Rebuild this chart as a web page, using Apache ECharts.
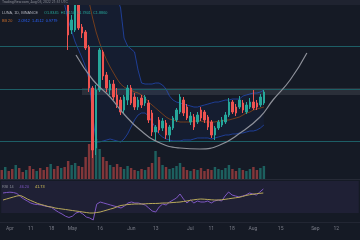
<!DOCTYPE html>
<html><head><meta charset="utf-8">
<script src="https://cdn.jsdelivr.net/npm/echarts@6/dist/echarts.min.js"></script>
<style>html,body{margin:0;padding:0;background:#151a25;}#c{width:360px;height:240px;}</style>
</head><body><div id="c"></div>
<script>
// ---- data ----
const N_CATS = 103;            // daily slots across the visible range (incl. empty future space)
const FIRST_CANDLE = 19;       // earlier candles are above the visible price range
const tickIdx  = [2, 8, 14, 20, 28, 37, 44, 54, 60, 66, 72, 80, 90, 96];
const tickText = ['Apr','11','18','May','16','Jun','13','Jul','11','18','Aug','15','Sep','12'];

const opens  = [1.77,1.50,1.50,1.75,1.53, 1.48,1.33,0.92,0.32,0.90, 1.28,1.05,0.90,0.96,0.85, 0.80,0.70,0.80,0.92,0.83, 0.73,0.82,0.77,0.77,0.67, 0.48,0.60,0.52,0.57,0.45, 0.52,0.60,0.68,0.80,0.73, 0.58,0.63,0.58,0.70,0.68, 0.63,0.58,0.45,0.52,0.55, 0.58,0.65,0.78,0.73,0.73, 0.77,0.68,0.73,0.78,0.77, 0.75,0.77];
const closes = [1.45,1.60,1.77,1.52,1.47, 1.32,0.92,0.30,0.90,1.30, 1.04,0.92,0.96,0.83,0.75, 0.68,0.83,0.92,0.77,0.73, 0.80,0.75,0.83,0.60,0.48, 0.53,0.50,0.59,0.45,0.53, 0.62,0.70,0.83,0.67,0.62, 0.64,0.53,0.65,0.62,0.60, 0.53,0.45,0.52,0.58,0.60, 0.65,0.78,0.68,0.67,0.80, 0.70,0.75,0.78,0.72,0.73, 0.83,0.88];
const lows   = [1.30,1.46,1.48,1.50,1.42, 1.30,0.88,0.22,0.25,0.88, 1.00,0.88,0.85,0.80,0.72, 0.65,0.67,0.75,0.75,0.70, 0.70,0.72,0.74,0.57,0.44, 0.39,0.47,0.49,0.41,0.38, 0.50,0.58,0.66,0.64,0.60, 0.55,0.50,0.56,0.59,0.57, 0.50,0.42,0.40,0.50,0.53, 0.56,0.63,0.66,0.64,0.71, 0.67,0.66,0.71,0.70,0.70, 0.73,0.75];
const highs  = [1.90,1.65,1.85,1.78,1.56, 1.50,1.35,0.94,0.95,1.32, 1.30,1.08,1.00,1.00,0.92, 0.83,0.85,0.95,0.95,0.87, 0.83,0.85,0.85,0.80,0.70, 0.55,0.63,0.62,0.60,0.55, 0.64,0.72,0.86,0.83,0.76, 0.68,0.66,0.68,0.73,0.70, 0.65,0.60,0.54,0.60,0.63, 0.68,0.82,0.80,0.76,0.84, 0.80,0.78,0.82,0.90,0.80, 0.86,0.90];

const volumes = [9,12,8,10,14,11,7,9,13,10,8,11,9,12,15,10,13,11,12,
  18,14,16,13,12,22,35,45,40,30,22,18,14,12,15,12,10,13,11,9,8,10,9,12,16,28,22,14,12,10,11,13,16,12,9,8,10,9,11,8,10,9,12,10,9,11,14,10,8,11,9,8,10,12,9,11,13];
const preUp = [0,1,0,0,1,0,0,1,0,0,1,0,0,0,1,0,0,1,0];

const rsi = [55,55.6,56,55.6,54.4,50.6,47.5,45,42.5,41,
  40.6,40,38.8,38,36.9,33.8,31,28.8,26,24.4,
  26,30,31.3,28.8,25,23.75,21.25,41,43.75,42.5,
  41.25,40,38.75,37.5,36.25,38.75,42.5,43.75,42.5,42.5,
  41.25,40,36.25,32.5,31.25,37.5,41.25,40,43.75,46.25,
  48.75,53.75,47.5,42.5,46.25,42.5,45,43.75,43.75,45,
  42.5,45,46.25,45,51.25,56.25,52.5,51.25,50,51.25,
  52.5,55,53.75,52.5,56.25,60];
const rsiMA = [46.25,47.5,48.75,50,51.25,51.9,50,47.5,45.6,43.75,
  41.9,40.6,39.4,38.1,37.5,36.25,35.6,35,34.4,33.75,
  33.1,32.5,31.9,31.25,30.6,30,30,30.6,31.25,32.5,
  33.75,35,36.25,38.1,39.4,40,40.6,40.9,41.25,41.25,
  41.25,41.5,41.75,41.9,41.9,42.1,42.5,42.5,42.75,43.1,
  43.4,43.75,44.4,45,45.9,46.5,47.1,47.5,47.25,46.9,
  46.5,46.25,46.25,46.6,47.1,47.75,48.4,49,49.6,50.6,
  51.9,52.75,53.5,54.1,54.6,55];

const BB_START = 17;
const bbUpper = [3.4,3.4,3.35,3.3,3.25,3.2,3.1,3.0,2.9,2.8,2.7,2.6,2.45,2.3,2.15,
  2.00,1.83,1.72,1.42,1.34, 1.31,1.28,1.10,0.97,0.96, 0.96,0.96,0.97,0.97,0.95, 0.91,0.84,0.80,0.78,0.77,
  0.76,0.75,0.74,0.73,0.73, 0.74,0.75,0.76,0.77,0.78, 0.78,0.79,0.80,0.80,0.81, 0.81,0.81,0.84,0.85,0.86, 0.87,0.87,0.88,0.90];
const bbBasis = [2.6,2.5,2.4,2.3,2.2,2.1,2.0,
  1.88,1.78,1.62,1.48,1.37, 1.28,1.20,1.13,1.07,1.01, 0.96,0.93,0.91,0.90,0.88, 0.87,0.85,0.82,0.78,0.75,
  0.72,0.69,0.66,0.63,0.61, 0.60,0.59,0.58,0.58,0.58, 0.58,0.59,0.59,0.59,0.58, 0.58,0.58,0.58,0.59,0.59,
  0.60,0.60,0.61,0.62,0.63, 0.65,0.67,0.68,0.70,0.71, 0.72,0.73];
const bbLower = [1.95,1.75,1.60,1.49,1.38, 1.30,1.22,1.13,1.00,0.65, 0.38,0.38,0.39,0.40,0.41, 0.40,0.39,0.38,0.41,0.46,
  0.53,0.60,0.65,0.67,0.67, 0.64,0.58,0.52,0.46,0.43, 0.41,0.40,0.39,0.39,0.39, 0.40,0.40,0.40,0.41,0.42,
  0.42,0.42,0.42,0.41,0.42, 0.43,0.44,0.45,0.45,0.46, 0.46,0.47,0.47,0.48,0.49, 0.49,0.50,0.52,0.55];

const cupX = [21.25,26.1,31.0,34.7,39.6,45.3,51.0,56.7,62.4,68.2,73.9,77.6,82.5,87.3];
const cupY = [1.25,1.00,0.83,0.67,0.50,0.37,0.32,0.31,0.35,0.47,0.63,0.80,1.00,1.27];

const levels = [1.34, 0.91, 0.385];
const zoneTop = 0.92, zoneBottom = 0.85, zoneStart = 22.96;

// ---- build ----
const UP = '#26a69a', DOWN = '#ef5350';
const pad = (arr, n) => Array(n).fill('-').concat(arr);
const catData = Array.from({length: N_CATS}, (_, i) => { const k = tickIdx.indexOf(i); return k >= 0 ? tickText[k] : ''; });
const candleData = opens.map((o, k) => [o, closes[k], lows[k], highs[k]]);
const volData = volumes.map((v, i) => {
  const up = i < FIRST_CANDLE ? preUp[i] : (closes[i - FIRST_CANDLE] >= opens[i - FIRST_CANDLE] ? 1 : 0);
  return {value: v, itemStyle: {color: up ? 'rgba(38,166,154,0.5)' : 'rgba(239,83,80,0.5)'}};
});
const bbDiff = bbUpper.map((u, k) => +(u - bbLower[k]).toFixed(3));

const chart = echarts.init(document.getElementById('c'), null, {renderer: 'canvas', width: 360, height: 240});
const FONT = 'Roboto, "Liberation Sans", sans-serif';
chart.setOption({
  animation: false,
  backgroundColor: '#151a25',
  grid: [
    {left: 0, right: 0, top: 0, height: 180},
    {left: 0, right: 0, top: 120, height: 59},
    {left: 0, right: 0, top: 177, height: 44}
  ],
  xAxis: [
    {type: 'category', gridIndex: 0, data: catData, show: false},
    {type: 'value', gridIndex: 0, min: -0.5, max: N_CATS - 0.5, show: false},
    {type: 'category', gridIndex: 1, data: catData, show: false},
    {type: 'category', gridIndex: 2, data: catData,
     axisLine: {show: false}, axisTick: {show: false}, splitLine: {show: false},
     axisLabel: {interval: 0, color: '#787b86', fontSize: 5, margin: 5, fontFamily: FONT}}
  ],
  yAxis: [
    {type: 'value', gridIndex: 0, min: 0, max: 1.8, show: false},
    {type: 'value', gridIndex: 1, min: 0, max: 59, show: false},
    {type: 'value', gridIndex: 2, min: 20, max: 75, show: false}
  ],
  series: [
    {type: 'bar', xAxisIndex: 2, yAxisIndex: 1, data: volData, barCategoryGap: '30%', z: 1},
    {type: 'line', xAxisIndex: 0, yAxisIndex: 0, data: pad(bbLower, BB_START), stack: 'bb',
     symbol: 'none', lineStyle: {opacity: 0}, z: 2},
    {type: 'line', xAxisIndex: 0, yAxisIndex: 0, data: pad(bbDiff, BB_START), stack: 'bb',
     symbol: 'none', lineStyle: {opacity: 0}, areaStyle: {color: 'rgba(41,98,255,0.07)'}, z: 2},
    {type: 'line', xAxisIndex: 0, yAxisIndex: 0, data: pad(bbUpper, BB_START), symbol: 'none',
     lineStyle: {color: 'rgba(41,98,255,0.5)', width: 1}, z: 3},
    {type: 'line', xAxisIndex: 0, yAxisIndex: 0, data: pad(bbLower, BB_START), symbol: 'none',
     lineStyle: {color: 'rgba(41,98,255,0.5)', width: 1}, z: 3},
    {type: 'line', xAxisIndex: 0, yAxisIndex: 0, data: pad(bbBasis, BB_START), symbol: 'none',
     lineStyle: {color: 'rgba(255,109,0,0.4)', width: 1}, z: 3},
    {type: 'line', xAxisIndex: 1, yAxisIndex: 0, data: cupX.map((x, k) => [x, cupY[k]]),
     smooth: true, symbol: 'none', lineStyle: {color: '#8d9099', width: 1.2}, z: 6,
     markArea: {silent: true, itemStyle: {color: 'rgba(120,123,134,0.22)'},
       data: [[{xAxis: zoneStart, yAxis: zoneTop}, {xAxis: N_CATS - 0.5, yAxis: zoneBottom}]]}},
    {type: 'candlestick', xAxisIndex: 0, yAxisIndex: 0, data: pad(candleData, FIRST_CANDLE),
     barWidth: '62%', z: 5,
     itemStyle: {color: UP, color0: DOWN, borderColor: UP, borderColor0: DOWN, borderWidth: 1},
     markLine: {silent: true, symbol: 'none', label: {show: false},
       lineStyle: {color: '#1d5e66', width: 1, type: 'solid'},
       data: levels.map(v => ({yAxis: v}))}},
    {type: 'line', xAxisIndex: 3, yAxisIndex: 2, data: rsi, symbol: 'none',
     lineStyle: {color: '#7e57c2', width: 1}, z: 3,
     markArea: {silent: true, itemStyle: {color: 'rgba(126,87,194,0.1)'},
       data: [[{yAxis: 70}, {yAxis: 30}]]}},
    {type: 'line', xAxisIndex: 3, yAxisIndex: 2, data: rsiMA, symbol: 'none',
     lineStyle: {color: '#b9a95a', width: 1}, z: 4}
  ],
  graphic: [
    {type: 'rect', shape: {x: 0, y: 0, width: 360, height: 5}, style: {fill: '#1f2330'}, z: 10},
    {type: 'text', left: 2, top: 0.5, z: 11, style: {text: 'TradingView.com, Aug 05, 2022 21:51 UTC', fontSize: 3.5, fill: '#8a8d96', fontFamily: FONT}},
    {type: 'text', left: 2, top: 7, z: 11, style: {
      text: '{a|LUNA, 1D, BINANCE}  {b|O1.8345  H1.9150  L1.7801  C1.8860}',
      fontFamily: FONT, rich: {a: {fontSize: 3.8, fill: '#b2b5be'}, b: {fontSize: 3.8, fill: '#26a69a'}}}},
    {type: 'text', left: 2, top: 15, z: 11, style: {
      text: '{a|BB 20}  {b|2.0912  1.4512  0.9779}',
      fontFamily: FONT, rich: {a: {fontSize: 3.8, fill: '#c46a2a'}, b: {fontSize: 3.8, fill: '#2962ff'}}}},
    {type: 'rect', shape: {x: 0, y: 179, width: 360, height: 1}, style: {fill: '#262a36'}, z: 10},
    {type: 'text', left: 2, top: 181, z: 11, style: {
      text: '{a|RSI 14}  {b|46.20}  {c|41.73}',
      fontFamily: FONT, rich: {a: {fontSize: 3.8, fill: '#8a8d96'}, b: {fontSize: 3.8, fill: '#7e57c2'}, c: {fontSize: 3.8, fill: '#d6c35a'}}}},
    {type: 'rect', shape: {x: 0, y: 222, width: 360, height: 1}, style: {fill: '#222633'}, z: 10}
  ]
});
</script>
</body></html>
